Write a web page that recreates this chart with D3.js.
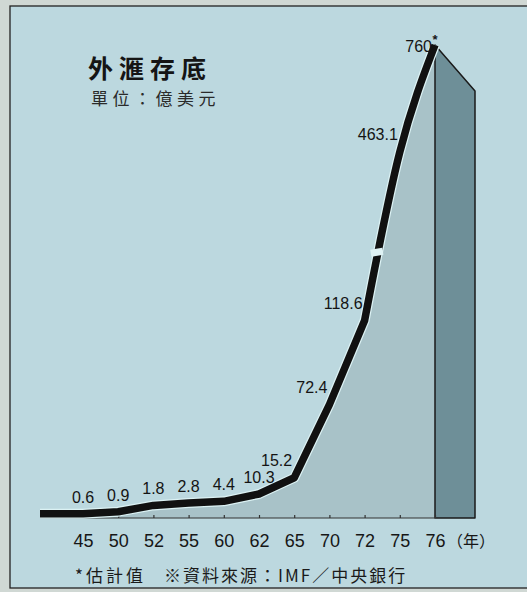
<!DOCTYPE html>
<html>
<head>
<meta charset="utf-8">
<script src="https://cdn.jsdelivr.net/npm/d3@7"></script>
<style>
  html, body { margin: 0; padding: 0; background: #d0d8d4; }
  svg { display: block; }
</style>
</head>
<body>
<svg id="chart" width="527" height="592"></svg>
<script>
// ---- data ----
const years = ["45", "50", "52", "55", "60", "62", "65", "70", "72", "75", "76"];
const values = [0.6, 0.9, 1.8, 2.8, 4.4, 10.3, 15.2, 72.4, 118.6, 463.1, 760];
const valueLabels = ["0.6", "0.9", "1.8", "2.8", "4.4", "10.3", "15.2", "72.4", "118.6", "463.1", "760"];
const estimatedIndex = 10;
const yearUnit = "（年）";
const title = "外滙存底";
const subtitle = "單位：億美元";
const noteEstimate = "*估計值";
const noteSource = "※資料來源：IMF／中央銀行";
// broken (piecewise) value axis knots
const yKnots = [0, 2, 10, 15, 70, 120, 130, 760];
const breakValue = 185;

// ---- layout ----
const W = 527, H = 592;
const base = 518;
const knotHeights = [0, 14, 23, 40, 109, 200, 246, 473];
const panelCol = "#bcd8df", areaCol = "#a8c2c8", sideCol = "#6e8f98";
const latin = "'Liberation Sans', Arial, sans-serif";
const cjk = "'Noto Sans CJK TC', 'Noto Sans CJK SC', sans-serif";

const svg = d3.select("#chart");

// panel & frame
svg.append("rect").attr("x", 0).attr("y", 0).attr("width", W).attr("height", H).attr("fill", "#d0d8d4");
svg.append("rect").attr("x", 10).attr("y", 6).attr("width", W).attr("height", 582)
  .attr("fill", panelCol).attr("stroke", "#222").attr("stroke-width", 1.3);

const x = d3.scalePoint().domain(years).range([83, 435]);
const y = d3.scaleLinear().domain(yKnots).range(knotHeights.map(h => base - h));

const pts = years.map((yr, i) => [x(yr), y(values[i])]);
const startPt = [40, y(values[0])];
const allPts = [startPt].concat(pts);
const splitAt = years.indexOf("72") + 1; // index in allPts
const lin = d3.line().curve(d3.curveLinear);
const mono = d3.line().curve(d3.curveMonotoneX);
const linePath = lin(allPts.slice(0, splitAt + 1)) + mono(allPts.slice(splitAt)).replace(/^M/, "L");

const xLast = x(years[years.length - 1]);
const yTop = y(values[values.length - 1]);

// area under the line
svg.append("path")
  .attr("d", linePath + `L${xLast},${base}L${startPt[0]},${base}Z`)
  .attr("fill", areaCol);

// 3D side
const depthX = 40, depthY = 46;
svg.append("path")
  .attr("d", `M${xLast},${yTop}L${xLast + depthX},${yTop + depthY}L${xLast + depthX},${base}L${xLast},${base}Z`)
  .attr("fill", sideCol).attr("stroke", "#1a1a1a").attr("stroke-width", 1.5).attr("stroke-linejoin", "round");

// baseline with ticks
svg.append("line").attr("x1", 40).attr("x2", xLast).attr("y1", base).attr("y2", base)
  .attr("stroke", "#333").attr("stroke-width", 1.2);
const axis = d3.axisBottom(x).tickSize(-3).tickPadding(16).tickSizeOuter(0);
const gAxis = svg.append("g").attr("transform", `translate(0,${base})`).call(axis);
gAxis.select(".domain").remove();
gAxis.selectAll(".tick line").attr("stroke", "#333").attr("stroke-width", 1.2);
gAxis.selectAll(".tick text").attr("font-family", latin).attr("font-size", 18).attr("fill", "#161616");
svg.append("text").attr("x", xLast + 12).attr("y", base + 29)
  .attr("font-family", cjk).attr("font-size", 16).attr("fill", "#161616").text(yearUnit);

// the line: halo + thick black stroke
svg.append("path").attr("d", linePath).attr("fill", "none")
  .attr("stroke", "#dcf2f4").attr("stroke-width", 10).attr("stroke-linejoin", "round");
const mainLine = svg.append("path").attr("d", linePath).attr("fill", "none")
  .attr("stroke", "#111").attr("stroke-width", 7.5).attr("stroke-linejoin", "round").attr("stroke-linecap", "butt");

// axis break gap in the line
const node = mainLine.node();
const total = node.getTotalLength();
const yb = y(breakValue);
let lo = 0, hi = total;
for (let k = 0; k < 40; k++) {
  const mid = (lo + hi) / 2;
  if (node.getPointAtLength(mid).y > yb) lo = mid; else hi = mid;
}
const bp = node.getPointAtLength(lo);
svg.append("line").attr("x1", bp.x - 7).attr("x2", bp.x + 5).attr("y1", bp.y + 1).attr("y2", bp.y - 1)
  .attr("stroke", "#dff2f4").attr("stroke-width", 7);

// value labels
values.forEach((v, i) => {
  const px = x(years[i]), py = y(v);
  const t = svg.append("text").attr("font-family", latin).attr("font-size", 16).attr("fill", "#141414")
    .text(valueLabels[i]);
  if (i === estimatedIndex) {
    t.attr("x", px - 3).attr("y", py + 7).attr("text-anchor", "end");
  } else if (v < 15) {
    t.attr("x", px).attr("y", py - 11).attr("text-anchor", "middle");
  } else {
    t.attr("x", px - 2).attr("y", py - 12).attr("text-anchor", "end");
  }
});
svg.append("text").attr("x", xLast).attr("y", yTop - 1).attr("text-anchor", "middle")
  .attr("font-family", latin).attr("font-size", 13).attr("font-weight", "bold").attr("fill", "#141414").text("*");

// titles
svg.append("text").attr("x", 88).attr("y", 78).attr("font-family", cjk).attr("font-size", 25)
  .attr("font-weight", "bold").attr("letter-spacing", 6).attr("fill", "#151515").text(title);
svg.append("text").attr("x", 91).attr("y", 105).attr("font-family", cjk).attr("font-size", 17)
  .attr("letter-spacing", 4.5).attr("fill", "#2a2a2a").text(subtitle);

// footnotes
svg.append("text").attr("x", 75).attr("y", 582).attr("font-family", cjk).attr("font-size", 17)
  .attr("letter-spacing", 3).attr("fill", "#1a1a1a").text(noteEstimate);
svg.append("text").attr("x", 164).attr("y", 582).attr("font-family", cjk).attr("font-size", 17)
  .attr("letter-spacing", 2).attr("fill", "#1a1a1a").text(noteSource);
</script>
</body>
</html>
